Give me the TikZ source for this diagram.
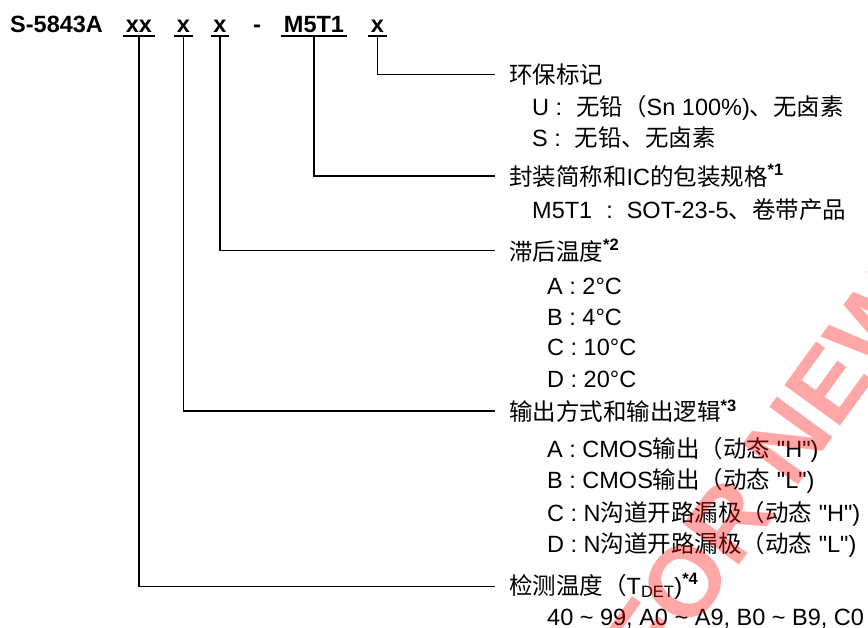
\documentclass[tikz,border=0pt]{standalone}
\usepackage{fontspec}
\setmainfont{Liberation Sans}
\newfontfamily\cjk{Noto Sans CJK SC}
\usetikzlibrary{positioning}
\newcommand{\zh}[1]{{\cjk #1}}
\newcommand{\note}[1]{\textsuperscript{\bfseries *#1}}
\newcommand{\qq}[1]{\textquotedbl#1\textquotedbl}

\begin{document}
\begin{tikzpicture}[x=1pt, y=-1pt,
  every node/.style={font=\fontsize{23.5}{28}\selectfont},
  code/.style={font=\fontsize{23.5}{28}\selectfont\bfseries, anchor=base, inner xsep=2.5pt, inner ysep=4pt, text depth=0pt},
  head/.style={anchor=base west, inner sep=0pt},
  item/.style={anchor=base west, inner sep=0pt},
  conn/.style={line width=1.5pt, shorten >=14pt},
  uline/.style={line width=2pt},
  stamp/.style={font=\fontsize{100}{104}\selectfont\bfseries, text=red, text opacity=.35, inner sep=0pt}]
\useasboundingbox (0,0) rectangle (868,627);
\node[code, anchor=base west, inner xsep=0pt] (name) at (10,32) {S-5843A};
\node[code] (cdet) at (139,32) {xx};
\node[code] (cout) at (183.5,32) {x};
\node[code] (chys) at (220,32) {x};
\node[code] (hyph) at (257,32) {-};
\node[code] (cpkg) at (314,32) {M5T1};
\node[code] (cenv) at (377.5,32) {x};
\foreach \n in {cdet,cout,chys,cpkg,cenv}
  \draw[uline] (\n.south west) -- (\n.south east);

\node[head] (env) at (509,83.5) {\zh{环保标记}};
\node[item] (envU) at (532,115) {U :\hspace{14pt}\zh{无铅（}Sn 100\%)\zh{、无卤素}};
\node[item] (envS) at (532,146.5) {S :\hspace{14pt}\zh{无铅、无卤素}};
\node[head] (pkg) at (509,185) {\zh{封装简称和}IC\zh{的包装规格}\note{1}};
\node[item] (pkgA) at (532,218) {M5T1\hspace{14pt}:\hspace{14pt}SOT-23-5\zh{、卷带产品}};
\node[head] (hys) at (509,260) {\zh{滞后温度}\note{2}};
\node[item] (hysA) at (547,294.5) {A : 2°C};
\node[item] (hysB) at (547,325.5) {B : 4°C};
\node[item] (hysC) at (547,355.5) {C : 10°C};
\node[item] (hysD) at (547,387) {D : 20°C};
\node[head] (out) at (509,420.5) {\zh{输出方式和输出逻辑}\note{3}};
\node[item] (outA) at (547,457) {A : CMOS\zh{输出（动态} \qq{H})};
\node[item] (outB) at (547,488) {B : CMOS\zh{输出（动态} \qq{L})};
\node[item] (outC) at (547,521) {C : N\zh{沟道开路漏极（动态} \qq{H})};
\node[item] (outD) at (547,552) {D : N\zh{沟道开路漏极（动态} \qq{L})};
\node[head] (det) at (509,594) {\zh{检测温度（}T\textsubscript{DET})\note{4}};
\node[item] (detA) at (547,625) {40 \textasciitilde{} 99, A0 \textasciitilde{} A9, B0 \textasciitilde{} B9, C0};

\draw[conn] (cenv.south) |- (env.west);
\draw[conn] (cpkg.south) |- (pkg.west);
\draw[conn] (chys.south) |- (hys.west);
\draw[conn] (cout.south) |- (out.west);
\draw[conn] (cdet.south) |- (det.west);

\begin{scope}
\clip (0,0) rectangle (868,627);
\node[stamp, rotate=54] (wm) at (765,472) {FOR NEW};
\draw[red, opacity=.35, line width=1.2pt] (664,627) -- +(54:360);
\end{scope}
\end{tikzpicture}
\end{document}
